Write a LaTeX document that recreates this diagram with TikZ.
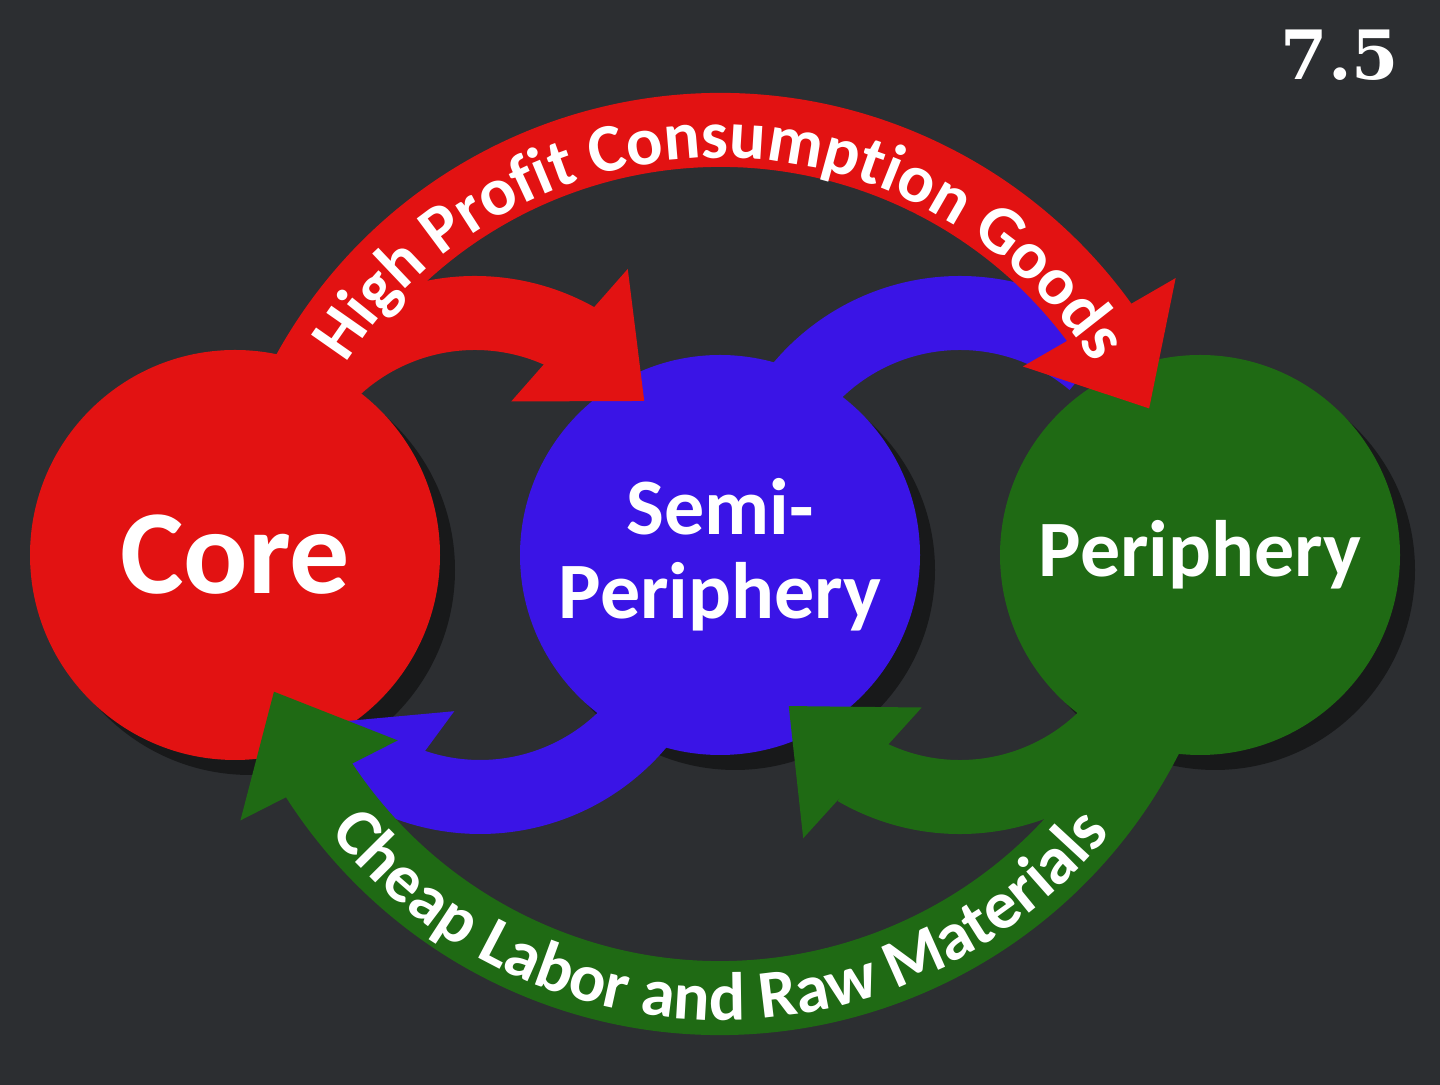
\documentclass[tikz,border=0pt]{standalone}
\usepackage{fontspec}
\setmainfont{Carlito}
\newfontfamily\numfont{DejaVu Serif}
\usetikzlibrary{arrows.meta,bending,decorations.text}
\definecolor{cred}{HTML}{E21212}
\definecolor{cblue}{HTML}{3A14E6}
\definecolor{cgreen}{HTML}{1F6A14}
\definecolor{bg}{HTML}{2C2E31}
\begin{document}
\begin{tikzpicture}[x=0.5pt,y=0.5pt,
  circ/.style={circle,minimum size=#1,inner sep=0pt,text=white,font=\bfseries,align=center},
  band/.style={line width=37pt,draw=#1,-{Triangle[width=85pt,length=50pt,flex]}},
  plainband/.style={line width=37pt,draw=#1},
  lbl/.style={decorate,decoration={text along path,text align=center,
     text={|\fontsize{34}{34}\bfseries\color{white}|#1}}}]
\useasboundingbox (0,0) rectangle (1440,1085);
\fill[bg] (0,0) rectangle (1440,1085);
% circles with shadows
\foreach \x/\r in {235/205,720/200,1200/200}
  \fill[black,opacity=0.45] (\x+15,515) circle (\r);
\node[circ=205pt,fill=cred,font=\fontsize{60}{60}\bfseries] (core) at (235,530) {Core};
\node[circ=200pt,fill=cblue,font=\fontsize{40}{42}\bfseries] (semi) at (720,530) {Semi-\\Periphery};
\node[circ=200pt,fill=cgreen,font=\fontsize{40}{42}\bfseries] (peri) at (1200,530) {Periphery};
% small arcs
\draw[plainband=cblue] (960,565) ++(150:207) arc[start angle=150,end angle=50,radius=207];
\draw[band=cred] (475,565) ++(145:207) arc[start angle=145,end angle=35,radius=207];
\draw[band=cblue] (480,495) ++(-30:207) arc[start angle=-30,end angle=-140,radius=207];
\draw[band=cgreen] (960,495) ++(-30:207) arc[start angle=-30,end angle=-146,radius=207];
% big arcs
\draw[band=cred] (720,485) ++(152:470) arc[start angle=152,end angle=24,radius=470];
\draw[band=cgreen] (720,565) ++(334:478) arc[start angle=334,end angle=201,radius=478];
\path[lbl={High Profit Consumption Goods}] (720,485) ++(150:442) arc[start angle=150,end angle=30,radius=442];
\path[lbl={Cheap Labor and Raw Materials}] (720,565) ++(211:500) arc[start angle=211,end angle=329,radius=500];
\node[text=white,font=\fontsize{34}{34}\bfseries\numfont] (num) at (1340,1030) {7.5};
\end{tikzpicture}
\end{document}
